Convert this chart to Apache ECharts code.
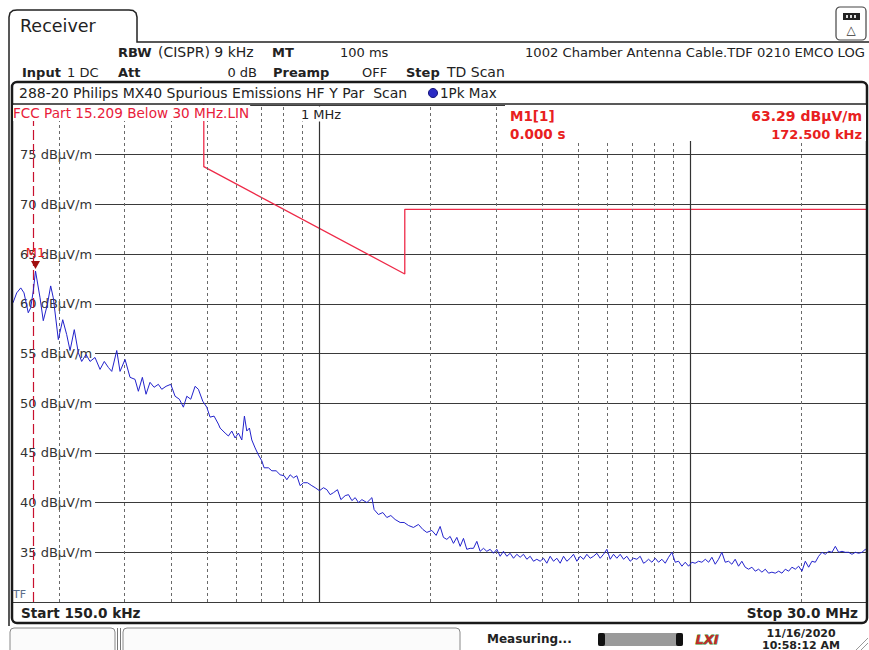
<!DOCTYPE html>
<html><head><meta charset="utf-8">
<script src="https://cdn.jsdelivr.net/npm/echarts@6/dist/echarts.min.js"></script>
<style>html,body{margin:0;padding:0;background:#fff;}#c{width:869px;height:650px;}</style>
</head><body><div id="c"></div>
<script>
// ---- data ----
const traceMHz = [
0.150,0.1535,0.1574,0.1606,0.1649,0.1674,0.1701,0.1725,0.1774,0.1810,0.1856,0.1895,0.1926,0.1987,0.2042,0.2093,0.2137,0.2194,0.2249,0.2297,0.2360,0.2419,0.2495,0.2574,0.2643,0.2710,0.2768,0.2855,0.2914,0.3006,0.3101,0.3198,0.3265,0.3347,0.3424,0.3510,0.3599,0.3696,0.3775,0.3877,0.3992,0.4100,0.4211,0.4317,0.4409,0.4519,0.4642,0.4738,0.4869,0.4991,0.5094,0.5222,0.5364,
0.5421,0.5592,0.5707,0.5829,0.5950,0.6073,0.6203,0.6304,0.6398,0.6503,0.6600,0.6737,0.6876,0.7023,0.7124,0.7317,0.7473,0.7675,0.7868,0.8066,0.8202,0.8372,0.8545,0.8728,0.8908,0.9093,0.9321,0.9580,0.9778,1.0043,1.0295,1.0514,1.0732,1.0954,1.1230,1.1469,1.1780,1.2024,1.2281,1.2535,1.2794,1.3067,1.3480,1.3905,1.4096,1.4477,1.4880,1.5253,1.5637,1.6059,1.6566,1.6982,1.7442,1.7991,1.8558,1.9071,1.9550,2.0166,2.0712,
2.123,2.167,2.213,2.259,2.306,2.355,2.404,2.454,2.505,2.558,2.611,2.666,2.721,2.778,2.836,2.896,2.956,3.018,3.081,3.145,3.211,3.278,3.347,3.417,3.488,3.561,3.636,3.712,3.789,3.868,3.949,4.032,4.116,4.202,4.290,4.380,4.471,4.565,4.660,4.757,4.857,4.958,5.062,5.168,5.276,5.386,5.499,5.614,5.731,5.851,5.973,6.098,6.225,6.355,6.488,6.624,6.762,6.903,7.048,7.195,7.345,7.499,
7.578,7.736,7.898,8.063,8.232,8.404,8.580,8.759,8.942,9.129,9.320,9.515,9.714,9.917,10.12,10.33,10.55,10.77,11.00,11.23,11.46,11.70,11.94,12.19,12.45,12.71,12.97,13.24,13.52,13.80,14.09,14.39,14.69,15.00,15.31,15.63,15.96,16.29,16.63,16.98,17.34,17.70,18.07,18.45,18.83,19.23,19.63,20.04,20.46,20.89,21.32,21.77,22.22,22.69,23.16,23.65,24.14,24.65,25.16,25.69,26.22,26.77,27.33,27.90,28.49,29.08,29.69,30.0
];
const traceDb = [
60.1,61.1,61.6,61.1,59.1,59.6,61.3,63.29,60.6,58.3,59.9,61.8,60.6,56.4,58.4,56.9,55.3,57.4,55.1,54.2,54.9,54.2,54.6,53.4,54.2,53.6,53.2,55.3,53.2,54.4,52.6,52.4,51.2,52.6,50.9,52.1,51.6,51.9,51.4,51.7,51.9,50.7,50.4,49.6,50.7,50.4,51.7,51.4,50.2,49.6,48.6,48.7,47.9,
47.5,47.0,46.7,47.2,46.5,47.0,46.3,48.7,47.2,47.5,46.3,45.5,44.8,44.2,43.5,43.5,43.2,43.2,42.8,42.7,42.3,42.8,42.5,42.7,41.7,42.0,42.0,41.7,41.5,41.2,41.5,41.3,40.8,41.0,41.3,40.3,40.7,40.8,40.2,40.5,40.0,40.3,40.0,40.5,39.3,38.8,39.0,38.5,38.7,38.3,38.0,38.0,37.7,37.5,37.8,37.3,37.0,37.2,36.7,
37.6,36.5,36.3,36.6,35.9,36.5,35.6,36.4,35.3,35.4,35.4,36.1,35.1,35.4,35.1,35.3,34.9,35.3,34.6,35.1,34.6,34.9,34.4,34.8,34.5,34.8,34.3,34.6,34.1,34.3,34.1,34.4,33.9,34.6,34.1,34.4,33.9,34.6,34.1,34.4,34.8,34.1,34.6,34.3,34.8,34.4,34.6,34.9,34.4,34.8,35.3,34.3,34.8,34.4,34.8,34.3,34.6,34.1,34.4,34.3,34.6,33.9,
34.0,34.3,34.0,34.4,34.0,34.3,33.9,34.5,35.0,34.0,34.1,33.6,34.0,33.6,34.0,33.9,34.1,34.0,34.3,34.0,34.5,33.8,34.3,35.0,34.0,34.1,33.8,34.3,33.6,34.1,33.5,33.3,33.5,33.1,33.3,33.0,33.3,32.9,33.0,32.9,33.1,32.9,33.3,33.1,33.5,33.3,33.6,33.1,34.1,33.5,34.1,34.0,34.6,35.0,34.8,35.1,35.0,35.6,35.0,35.1,35.0,35.0,34.8,35.0,34.9,35.0,35.3,35.1
];
const limitMHz = [0.49, 0.49, 1.705, 1.705, 30];
const limitDb  = [93.8, 73.8, 63.0, 69.5, 69.5];
const majorGridMHz = [1, 10];
const minorGridMHz = [0.2,0.3,0.4,0.5,0.6,0.7,0.8,0.9,2,3,4,5,6,7,8,9,20];
const freqMinMHz = 0.15, freqMaxMHz = 30;
const levelMin = 30, levelMax = 80, levelStep = 5;
const markerMHz = 0.1725, markerDb = 63.29;

// ---- chart ----
const F = '"DejaVu Sans", Verdana, sans-serif';
const chart = echarts.init(document.getElementById('c'), null, {renderer: 'svg'});
const pair = (xs, ys) => xs.map((x, i) => [x, ys[i]]);

function T(x, y, text, o) {
  o = o || {};
  return {type: 'text', x: x, y: y, z: o.z || 60, silent: true,
    style: Object.assign({text: text, fill: o.color || '#222',
      font: (o.italic ? 'italic ' : '') + (o.bold ? 'bold ' : '') + (o.size || 13) + 'px ' + F,
      align: o.align || 'left', verticalAlign: 'middle'}, o.style || {})};
}
function L(x1, y1, x2, y2, stroke, w, z) {
  return {type: 'line', z: z || 30, silent: true, shape: {x1: x1, y1: y1, x2: x2, y2: y2}, style: {stroke: stroke, lineWidth: w}};
}
function R(x, y, w, h, r, style, z) {
  return {type: 'rect', z: z || 30, silent: true, shape: {x: x, y: y, width: w, height: h, r: r}, style: style};
}

const graphics = [
  // outer receiver panel with tab
  {type: 'polyline', z: 30, silent: true,
    shape: {points: [[9, 626], [9, 17], [10, 13], [13, 10.5], [17, 10], [129, 10], [133, 10.5], [136, 13], [137, 17], [137, 42], [869, 42]]},
    style: {fill: 'none', stroke: '#222', lineWidth: 1.5}},
  T(20, 26, 'Receiver', {size: 17.5}),
  // top right icon
  R(836, 7, 30, 33, 4, {fill: '#fff', stroke: '#444', lineWidth: 1.2}),
  R(843, 13, 17, 7, 0, {fill: '#222'}, 31),
  R(846, 15, 2, 3, 0, {fill: '#ddd'}, 32),
  R(850, 15, 2, 3, 0, {fill: '#ddd'}, 32),
  R(854, 15, 2, 3, 0, {fill: '#ddd'}, 32),
  T(851, 30, '△', {size: 12, align: 'center', color: '#333'}),
  // header rows
  T(118, 52, 'RBW', {bold: true}), T(158, 52, '(CISPR) 9 kHz', {size: 14}),
  T(272, 52, 'MT', {bold: true}), T(340, 52, '100 ms'),
  T(525, 52, '1002 Chamber Antenna Cable.TDF 0210 EMCO LOG', {size: 13.1}),
  T(22, 72, 'Input', {bold: true}), T(67, 72, '1 DC'),
  T(118, 72, 'Att', {bold: true}), T(257, 72, '0 dB', {align: 'right'}),
  T(273, 72, 'Preamp', {bold: true}), T(362, 72, 'OFF'),
  T(406, 72, 'Step', {bold: true}), T(447, 72, 'TD Scan', {size: 14}),
  // inner box (title + plot + start/stop)
  R(12, 82, 855, 541, 5, {fill: 'none', stroke: '#1a1a1a', lineWidth: 2.5}, 45),
  L(12, 104, 867, 104, '#222', 1.5, 44),
  T(19, 93, '288-20 Philips MX40 Spurious Emissions HF Y Par  Scan', {size: 14}),
  {type: 'circle', z: 60, silent: true, shape: {cx: 433, cy: 93, r: 4.5}, style: {fill: '#2b2bc4', stroke: '#15157a', lineWidth: 1}},
  T(440, 93, '1Pk Max', {size: 13.5}),
  // limit line label, 1 MHz label
  T(13, 113, 'FCC Part 15.209 Below 30 MHz.LIN', {size: 13.6, color: '#e8203a', z: 50, style: {backgroundColor: '#fff', padding: [1, 1, 1, 0]}}),
  T(321, 114, '1 MHz', {align: 'center', z: 50, style: {backgroundColor: '#fff', padding: [1, 2, 1, 2]}}),
  // marker info box
  R(505, 105, 361, 36, 0, {fill: '#fff'}, 48),
  T(510, 116, 'M1[1]', {bold: true, size: 13.5, color: '#e82020'}),
  T(510, 134, '0.000 s', {bold: true, size: 13.5, color: '#e82020'}),
  T(862, 116, '63.29 dBµV/m', {bold: true, size: 14, color: '#e82020', align: 'right'}),
  T(862, 134, '172.500 kHz', {bold: true, color: '#e82020', align: 'right'}),
  T(13, 594, 'TF', {size: 11, color: '#5a6e8a'}),
  // start / stop
  T(21, 613, 'Start 150.0 kHz', {bold: true, size: 13.6}),
  T(858, 613, 'Stop 30.0 MHz', {bold: true, size: 13.6, align: 'right'}),
  // status bar
  R(10, 628, 105, 26, 4, {fill: '#fbfbfb', stroke: '#888', lineWidth: 1}),
  L(117.5, 628, 117.5, 650, '#777', 1),
  L(120.5, 628, 120.5, 650, '#777', 1),
  R(123, 628, 337, 26, 4, {fill: '#fbfbfb', stroke: '#888', lineWidth: 1}),
  T(487, 639, 'Measuring...', {bold: true, size: 12}),
  R(598, 633, 85, 13, 2, {fill: '#9a9a9a'}),
  R(598, 633, 7, 13, 2, {fill: '#111'}, 31),
  R(676, 633, 7, 13, 2, {fill: '#111'}, 31),
  T(707, 639, 'LXI', {bold: true, italic: true, size: 13, align: 'center', color: '#c42a2a', style: {stroke: '#2e8a2e', lineWidth: 0.8}}),
  T(801, 633, '11/16/2020', {bold: true, size: 11, align: 'center'}),
  T(801, 645, '10:58:12 AM', {bold: true, size: 11, align: 'center'}),
  L(856, 650, 868, 638, '#999', 1),
  L(861, 650, 868, 643, '#999', 1)
];

const vline = (v, style) => ({xAxis: v, lineStyle: style});

chart.setOption({
  animation: false,
  backgroundColor: '#fff',
  grid: {left: 13, right: 2, top: 105, bottom: 48, containLabel: false},
  xAxis: {type: 'log', logBase: 10, min: freqMinMHz, max: freqMaxMHz,
    axisLine: {show: false}, axisTick: {show: false}, axisLabel: {show: false}, splitLine: {show: false}},
  yAxis: {type: 'value', min: levelMin, max: levelMax, interval: levelStep, z: 3,
    axisLine: {show: false}, axisTick: {show: false},
    splitLine: {show: true, lineStyle: {color: '#3a3a3a', width: 1}},
    axisLabel: {inside: true, margin: 0, showMinLabel: false, showMaxLabel: false,
      formatter: v => v + ' dBµV/m', color: '#333', fontFamily: F, fontSize: 13,
      backgroundColor: '#fff', padding: [1, 3, 1, 7]}},
  series: [
    {type: 'line', name: 'grid', data: [], z: 1, silent: true,
      markLine: {silent: true, symbol: ['none', 'none'], label: {show: false}, animation: false,
        data: minorGridMHz.map(v => vline(v, {color: '#6a6a6a', width: 1, type: [3, 3]}))
          .concat(majorGridMHz.map(v => vline(v, {color: '#333', width: 1.2, type: 'solid'})))}},
    {type: 'line', name: 'FCC limit', data: pair(limitMHz, limitDb), z: 4, clip: true,
      showSymbol: false, symbol: 'none', lineStyle: {color: '#ee2a48', width: 1.3}},
    {type: 'line', name: '1Pk Max', data: pair(traceMHz, traceDb), z: 5,
      showSymbol: false, symbol: 'none', lineStyle: {color: '#2222cc', width: 1},
      markLine: {silent: true, symbol: ['none', 'none'], label: {show: false}, animation: false,
        data: [vline(markerMHz, {color: '#c8102e', width: 1.2, type: [10, 4]})]},
      markPoint: {silent: true, animation: false,
        data: [{coord: [markerMHz, markerDb], symbol: 'triangle', symbolRotate: 180, symbolSize: [9, 8], symbolOffset: [0, -6],
          itemStyle: {color: '#a01010'},
          label: {show: true, formatter: 'M1', position: 'top', distance: 2, color: '#e82020', fontFamily: F, fontSize: 13}}]}}
  ],
  graphic: {elements: graphics}
});
</script></body></html>
